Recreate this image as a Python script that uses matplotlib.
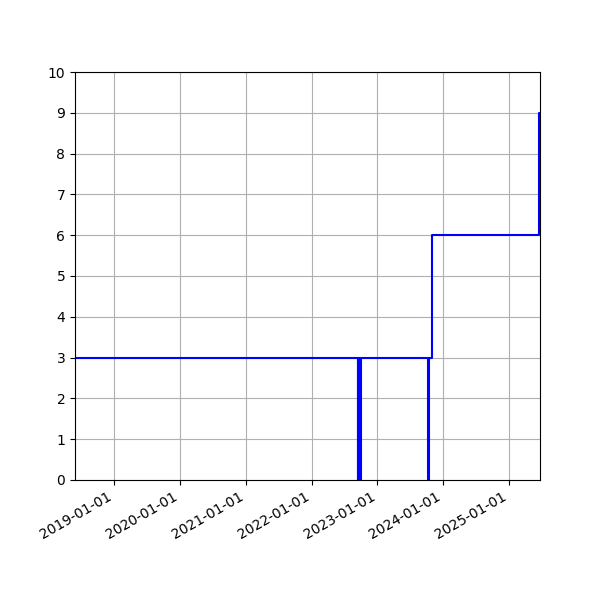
import pandas as pd
import matplotlib
matplotlib.use('Agg')
import matplotlib.pyplot as plt
import matplotlib.dates as mdates

# change points of the step series
dates = ['2018-05-29', '2022-09-15', '2022-09-16', '2022-09-29', '2022-09-30',
         '2023-10-12', '2023-10-13', '2023-10-30', '2025-06-17', '2025-06-22']
values = [3, 0, 3, 0, 3, 0, 3, 6, 9, 9]

df = pd.DataFrame({'date': pd.to_datetime(dates), 'value': values})

fig, ax = plt.subplots(figsize=(6, 6), dpi=100)
ax.step(df['date'], df['value'], where='post', color='blue', linewidth=1.5)
ax.set_xlim(df['date'].iloc[0], df['date'].iloc[-1])
ax.set_ylim(0, 10)
ax.set_yticks(range(0, 11))
ax.xaxis.set_major_locator(mdates.YearLocator())
ax.xaxis.set_major_formatter(mdates.DateFormatter('%Y-%m-%d'))
ax.grid(True)
fig.autofmt_xdate()
plt.savefig('out.png')
